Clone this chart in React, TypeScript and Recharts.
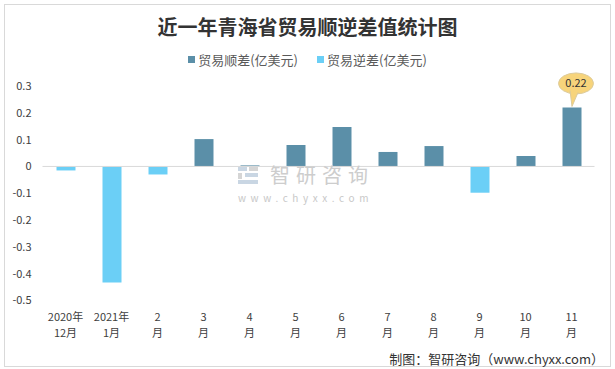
import { BarChart, Bar, XAxis, YAxis, ReferenceLine, LabelList } from 'recharts';

// 月份标签（两行）
const monthTop = ['2020年', '2021年', '2', '3', '4', '5', '6', '7', '8', '9', '10', '11'];
const monthBottom = ['12月', '1月', '月', '月', '月', '月', '月', '月', '月', '月', '月', '月'];

// 贸易顺差 / 逆差（亿美元）
const surplus = [null, null, null, 0.102, 0.004, 0.08, 0.147, 0.054, 0.076, null, 0.039, 0.22];
const deficit = [-0.015, -0.433, -0.03, null, null, null, null, null, null, -0.098, null, null];

const yTicks = [0.3, 0.2, 0.1, 0, -0.1, -0.2, -0.3, -0.4, -0.5];

const data = monthTop.map((m, i) => ({
  month: `${m}\n${monthBottom[i]}`,
  surplus: surplus[i],
  deficit: deficit[i],
}));

const FONT = '"Noto Sans CJK SC", "Noto Sans", sans-serif';
const DARK = '#5B8FA8';
const LIGHT = '#6BCFF6';
const LAST = surplus[surplus.length - 1];

const MonthTick = (props: any) => {
  const { x, y, payload } = props;
  const [top, bottom] = String(payload.value).split('\n');
  return (
    <text x={x} y={y} textAnchor="middle" fill="#404040" fontSize={11} fontFamily={FONT}>
      <tspan x={x} dy={12.5}>{top}</tspan>
      <tspan x={x} dy={16}>{bottom}</tspan>
    </text>
  );
};

const Callout = (props: any) => {
  const { x, y, width, value } = props;
  const v = Array.isArray(value) ? value[1] : value;
  if (v !== LAST) return null;
  const px = Number(x) + Number(width) / 2;
  const top = Number(y);
  const cx = px + 4;
  const cy = top - 24;
  return (
    <g>
      <ellipse cx={cx} cy={cy} rx={17.5} ry={10.5} fill="#F7D47B" stroke="#dccb9c" strokeWidth={1} />
      <path
        d={`M${cx - 6},${cy + 7} L${px},${top - 1} L${cx + 2},${cy + 9}`}
        fill="#F7D47B"
        stroke="#dccb9c"
        strokeWidth={1}
      />
      <text x={cx} y={cy + 4} textAnchor="middle" fontSize={11} fill="#333" fontFamily={FONT}>
        {Number(v).toFixed(2)}
      </text>
    </g>
  );
};

export default function App() {
  return (
    <div
      style={{
        position: 'absolute',
        left: 0,
        top: 0,
        width: 615,
        height: 369,
        background: '#fff',
        fontFamily: FONT,
      }}
    >
      <div
        style={{
          position: 'absolute',
          left: 4,
          top: 4,
          width: 605,
          height: 361,
          border: '1px solid #d9d9d9',
        }}
      />
      <div
        style={{
          position: 'absolute',
          left: 0,
          top: 16,
          width: 615,
          textAlign: 'center',
          fontSize: 20,
          lineHeight: '22px',
          fontWeight: 700,
          color: '#333',
        }}
      >
        近一年青海省贸易顺逆差值统计图
      </div>
      <div
        style={{
          position: 'absolute',
          left: 0,
          top: 51,
          width: 615,
          display: 'flex',
          justifyContent: 'center',
          fontSize: 13,
          lineHeight: '17px',
          color: '#595959',
        }}
      >
        <span style={{ display: 'flex', alignItems: 'center', marginRight: 19 }}>
          <span style={{ width: 7, height: 7, background: DARK, marginRight: 3 }} />
          贸易顺差(亿美元)
        </span>
        <span style={{ display: 'flex', alignItems: 'center' }}>
          <span style={{ width: 7, height: 7, background: LIGHT, marginRight: 3 }} />
          贸易逆差(亿美元)
        </span>
      </div>

      <div style={{ position: 'absolute', left: 0, top: 0 }}>
        <BarChart
          width={615}
          height={369}
          data={data}
          margin={{ top: 86, right: 20.5, bottom: 38.5, left: 2.5 }}
        >
          <XAxis
            dataKey="month"
            axisLine={false}
            tickLine={false}
            interval={0}
            height={30}
            tick={<MonthTick />}
          />
          <YAxis
            domain={[-0.5, 0.3]}
            ticks={yTicks}
            interval={0}
            axisLine={false}
            tickLine={false}
            tickMargin={5}
            width={40}
            tick={{ fill: '#404040', fontSize: 11, fontFamily: FONT }}
          />
          <ReferenceLine y={0} stroke="#d9d9d9" strokeWidth={1} />
          <Bar dataKey="surplus" stackId="a" fill={DARK} barSize={19} isAnimationActive={false}>
            <LabelList dataKey="surplus" content={<Callout />} />
          </Bar>
          <Bar dataKey="deficit" stackId="a" fill={LIGHT} barSize={19} isAnimationActive={false} />
        </BarChart>
      </div>

      {/* 水印 */}
      <div style={{ position: 'absolute', left: 238, top: 165, pointerEvents: 'none' }}>
        <svg width={22} height={18} style={{ position: 'absolute', left: 0, top: 2 }}>
          <rect x={0} y={0} width={9} height={4} fill="#c9d6e3" />
          <rect x={11} y={0} width={9} height={4} fill="#d5d5d5" />
          <rect x={0} y={6} width={4} height={6} fill="#d5d5d5" />
          <rect x={7} y={6} width={13} height={4} fill="#c9d6e3" />
          <rect x={0} y={13} width={20} height={4} fill="#c9d6e3" />
        </svg>
        <div
          style={{
            position: 'absolute',
            left: 32,
            top: 0,
            fontSize: 20,
            lineHeight: '20px',
            letterSpacing: 6,
            color: '#cdcdcd',
            whiteSpace: 'nowrap',
          }}
        >
          智研咨询
        </div>
        <div
          style={{
            position: 'absolute',
            left: 0,
            top: 27,
            fontSize: 10,
            lineHeight: '12px',
            letterSpacing: 4.6,
            color: '#c8c8c8',
            whiteSpace: 'nowrap',
          }}
        >
          www.chyxx.com
        </div>
      </div>

      <div
        style={{
          position: 'absolute',
          right: 11,
          top: 350,
          fontSize: 13,
          lineHeight: '18px',
          color: '#333',
          whiteSpace: 'nowrap',
        }}
      >
        制图：智研咨询（www.chyxx.com）
      </div>
    </div>
  );
}
